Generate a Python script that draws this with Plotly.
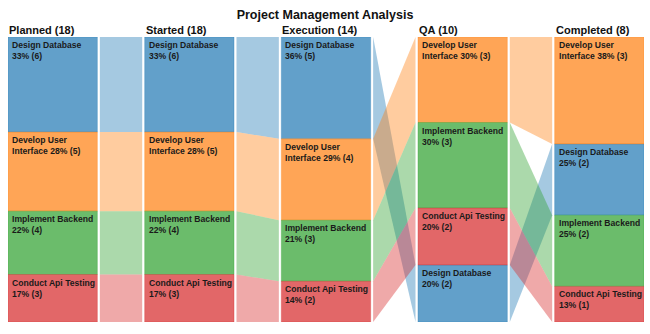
import math
import plotly.graph_objects as go

# ---- data -------------------------------------------------------------
stages = ["Planned", "Started", "Execution", "QA", "Completed"]
tasks = ["Design Database", "Develop User Interface", "Implement Backend", "Conduct Api Testing"]

design_database = [6, 6, 5, 2, 2]
develop_user_interface = [5, 5, 4, 3, 3]
implement_backend = [4, 4, 3, 3, 2]
conduct_api_testing = [3, 3, 2, 2, 1]

task_colors = {
    "Design Database": (31, 119, 180),
    "Develop User Interface": (255, 127, 14),
    "Implement Backend": (44, 160, 44),
    "Conduct Api Testing": (214, 39, 40),
}

counts = {
    "Design Database": design_database,
    "Develop User Interface": develop_user_interface,
    "Implement Backend": implement_backend,
    "Conduct Api Testing": conduct_api_testing,
}

# ---- geometry helpers -------------------------------------------------
HALF_W = 0.327   # half width of a stage column (x units)
GAP = 0.018      # white gap between a column and its flow band
FONT = "Liberation Sans, Arial, sans-serif"


def rgba(c, a):
    return f"rgba({c[0]},{c[1]},{c[2]},{a})"


def wrap_label(name, pct_text, width=19, tail=18):
    words = name.split()
    lines, cur = [], ""
    for w in words:
        cand = (cur + " " + w).strip()
        if len(cand) <= width or not cur:
            cur = cand
        else:
            lines.append(cur)
            cur = w
    lines.append(cur)
    if len(lines[-1] + " " + pct_text) <= tail:
        lines[-1] = lines[-1] + " " + pct_text
    else:
        lines.append(pct_text)
    return "<br>".join(lines)


# stacked positions (fractions of the column, top = 0)
totals = [sum(counts[t][i] for t in tasks) for i in range(len(stages))]
spans = {t: [None] * len(stages) for t in tasks}
for i in range(len(stages)):
    order = sorted(tasks, key=lambda t: (-counts[t][i], t))
    top = 0.0
    for t in order:
        h = counts[t][i] / totals[i]
        spans[t][i] = (top, top + h)
        top += h

fig = go.Figure()

# flow bands between consecutive stages
for t in tasks:
    for i in range(len(stages) - 1):
        x0 = i + HALF_W + GAP
        x1 = i + 1 - HALF_W - GAP
        (a0, b0), (a1, b1) = spans[t][i], spans[t][i + 1]
        fig.add_trace(go.Scatter(
            x=[x0, x1, x1, x0, x0], y=[a0, a1, b1, b0, a0],
            mode="lines", fill="toself", line=dict(width=0),
            fillcolor=rgba(task_colors[t], 0.4), hoverinfo="skip",
            showlegend=False,
        ))

# stage blocks
for t in tasks:
    fig.add_trace(go.Bar(
        x=list(range(len(stages))),
        base=[spans[t][i][0] for i in range(len(stages))],
        y=[spans[t][i][1] - spans[t][i][0] for i in range(len(stages))],
        width=2 * HALF_W,
        marker=dict(color=rgba(task_colors[t], 0.7),
                    line=dict(color=rgba(task_colors[t], 0.3), width=1)),
        hoverinfo="skip", showlegend=False,
    ))

annotations = []
# block labels
for t in tasks:
    for i in range(len(stages)):
        pct = math.floor(counts[t][i] / totals[i] * 100 + 0.5)
        text = wrap_label(t, f"{pct}% ({counts[t][i]})")
        annotations.append(dict(
            x=i - HALF_W, y=spans[t][i][0], xref="x", yref="y",
            xanchor="left", yanchor="top", align="left",
            xshift=2, yshift=-1, showarrow=False, text=f"<b>{text}</b>",
            font=dict(family=FONT, size=8.6, color="#1a1a1a"),
        ))

# stage headers
for i, s in enumerate(stages):
    annotations.append(dict(
        x=i - HALF_W, y=1, xref="x", yref="paper",
        xanchor="left", yanchor="bottom", xshift=-1, yshift=-1, showarrow=False,
        text=f"<b>{s} ({totals[i]})</b>",
        font=dict(family=FONT, size=11, color="#111111"),
    ))

fig.update_layout(
    width=650, height=334,
    margin=dict(l=8, r=6, t=37, b=12),
    paper_bgcolor="white", plot_bgcolor="white",
    barmode="overlay",
    title=dict(text="<b>Project Management Analysis</b>", x=0.5, xanchor="center",
               y=0.955, yanchor="middle",
               font=dict(family=FONT, size=12.5, color="#111111")),
    xaxis=dict(range=[-HALF_W, len(stages) - 1 + HALF_W], visible=False, fixedrange=True),
    yaxis=dict(range=[1, 0], visible=False, fixedrange=True),
    annotations=annotations,
)

fig.write_html("out.html")
